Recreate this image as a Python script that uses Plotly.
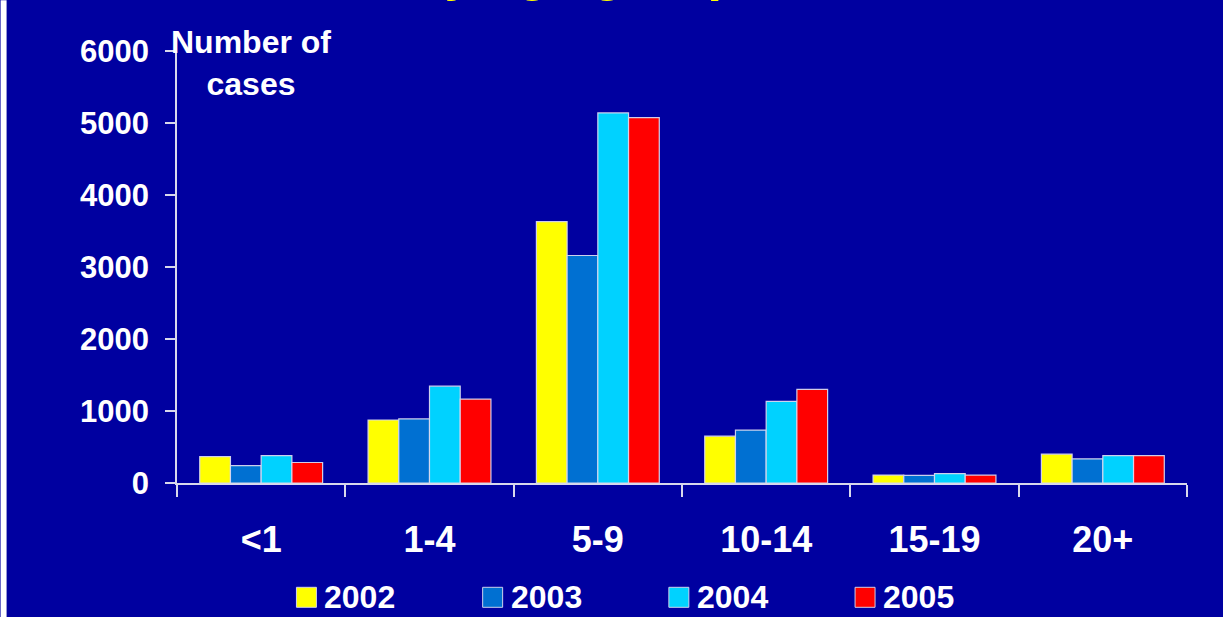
import plotly.graph_objects as go

# ---- data -------------------------------------------------------------
age_groups = ["<1", "1-4", "5-9", "10-14", "15-19", "20+"]
years = ["2002", "2003", "2004", "2005"]
cases_2002 = [365, 875, 3630, 650, 110, 400]
cases_2003 = [240, 890, 3160, 735, 105, 335]
cases_2004 = [380, 1345, 5140, 1135, 130, 380]
cases_2005 = [285, 1165, 5075, 1300, 110, 380]
y_ticks = [0, 1000, 2000, 3000, 4000, 5000, 6000]

series = [cases_2002, cases_2003, cases_2004, cases_2005]
colors = ["#FFFF00", "#0070D2", "#00D2FF", "#FF0000"]

# ---- styling ----------------------------------------------------------
W, H = 1223, 617
BG = "#0000A0"
AXIS = "#D8D8EC"
EDGE = "rgba(215,215,238,0.95)"
FONT = "Liberation Sans, Arial, Helvetica, sans-serif"

# plot area in pixels
plot_l, plot_r, plot_t, plot_b = 176.5, 1187.0, 50.7, 482.7


def px_x(px):
    return (px - plot_l) / (plot_r - plot_l)


def px_y(py):
    return (plot_b - py) / (plot_b - plot_t)


fig = go.Figure()
for year, values, color in zip(years, series, colors):
    fig.add_trace(go.Bar(
        x=age_groups,
        y=values,
        name=year,
        marker=dict(color=color, line=dict(color=EDGE, width=1.2)),
        showlegend=False,
    ))

fig.update_layout(
    width=W,
    height=H,
    autosize=False,
    paper_bgcolor=BG,
    plot_bgcolor=BG,
    margin=dict(l=plot_l, r=W - plot_r, t=plot_t, b=H - plot_b, pad=0),
    barmode="group",
    bargap=0.27,
    bargroupgap=0,
    font=dict(family=FONT, color="white"),
)

fig.update_xaxes(
    type="category",
    range=[-0.5, len(age_groups) - 0.5],
    showline=True,
    linecolor=AXIS,
    linewidth=1.5,
    ticks="outside",
    tickson="boundaries",
    ticklen=12,
    tickwidth=1.5,
    tickcolor=AXIS,
    tickfont=dict(family=FONT, size=36, color="white", weight="bold"),
    ticklabelstandoff=24,
    showgrid=False,
    zeroline=False,
)

fig.update_yaxes(
    range=[0, 6000],
    tickvals=y_ticks,
    ticktext=[str(v) for v in y_ticks],
    showline=True,
    linecolor=AXIS,
    linewidth=1.5,
    ticks="outside",
    ticklen=10,
    tickwidth=1.5,
    tickcolor=AXIS,
    tickfont=dict(family=FONT, size=31, color="white", weight="bold"),
    ticklabelstandoff=10,
    showgrid=False,
    zeroline=False,
)

annotations = []
shapes = []

# slide title, running off the top edge of the slide
annotations.append(dict(
    text="Cases by age group in total, 2002-2005",
    xref="paper", yref="paper",
    x=px_x(243), y=px_y(-28),
    xanchor="left", yanchor="middle",
    showarrow=False,
    font=dict(family=FONT, size=52, color="#FFFF00", weight="bold"),
))

# y-axis caption
annotations.append(dict(
    text="Number of<br>cases",
    xref="paper", yref="paper",
    x=px_x(251), y=px_y(63),
    xanchor="center", yanchor="middle",
    align="center",
    showarrow=False,
    font=dict(family=FONT, size=32, color="white", weight="bold"),
))

# legend row
leg_x0, leg_step, leg_y, box = 296, 186.3, 597, 20
for i, (year, color) in enumerate(zip(years, colors)):
    x0 = leg_x0 + i * leg_step
    shapes.append(dict(
        type="rect", xref="paper", yref="paper",
        x0=px_x(x0), x1=px_x(x0 + box),
        y0=px_y(leg_y + box / 2), y1=px_y(leg_y - box / 2),
        fillcolor=color, line=dict(color=EDGE, width=1),
        layer="above",
    ))
    annotations.append(dict(
        text=year,
        xref="paper", yref="paper",
        x=px_x(x0 + box + 6), y=px_y(leg_y),
        xanchor="left", yanchor="middle",
        showarrow=False,
        font=dict(family=FONT, size=32, color="white", weight="bold"),
    ))

# white strip along the left edge
shapes.append(dict(
    type="rect", xref="paper", yref="paper",
    x0=px_x(0), x1=px_x(6), y0=px_y(H), y1=px_y(0),
    fillcolor="white", line=dict(width=0), layer="above",
))

fig.update_layout(annotations=annotations, shapes=shapes)

fig.write_html("out.html")
